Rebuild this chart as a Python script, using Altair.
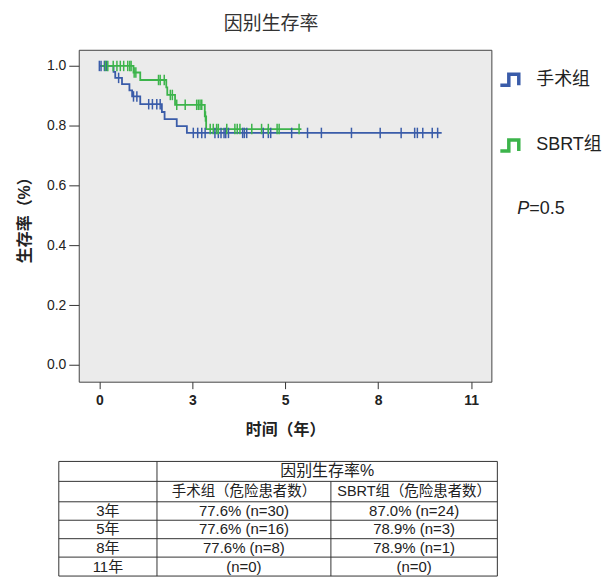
import altair as alt
import pandas as pd

FONT = "Liberation Sans, Noto Sans CJK SC, sans-serif"
BLUE = "#3a5ca9"
GREEN = "#3cb44b"
INK = "#222222"

GROUPS = ["手术组", "SBRT组"]

# Kaplan-Meier steps: time (years) and survival after each event; last point = end of follow-up
SURG_T = [0.0, 0.42, 0.47, 0.67, 0.89, 0.97, 1.21, 1.85, 1.93, 2.29, 2.59, 10.13]
SURG_S = [1.0, 0.980, 0.960, 0.939, 0.918, 0.898, 0.872, 0.846, 0.822, 0.799, 0.776, 0.776]
SURG_CENSOR = [0.0, 0.05, 0.15, 0.21, 0.57, 1.01, 1.11, 1.46, 1.57, 1.70, 1.80,
               2.78, 2.91, 3.03, 3.13, 3.42, 3.52, 3.60, 3.69, 3.74, 3.82, 4.24,
               4.29, 4.36, 4.85, 5.00, 5.07, 5.69, 6.16, 6.57, 7.46, 8.31, 8.93,
               9.33, 9.41, 9.57, 9.85, 10.01]

SBRT_T = [0.0, 1.01, 1.21, 1.98, 2.01, 2.24, 3.12, 3.16, 5.98]
SBRT_S = [1.0, 0.978, 0.953, 0.928, 0.903, 0.870, 0.831, 0.789, 0.789]
SBRT_CENSOR = [0.18, 0.25, 0.41, 0.52, 0.62, 0.72, 0.84, 0.90, 0.94, 1.03, 1.08,
               1.75, 1.80, 1.92, 2.10, 2.16, 2.29, 2.54, 2.88, 2.93, 2.98, 3.03,
               3.14, 3.28, 3.37, 3.47, 3.52, 3.77, 4.01, 4.08, 4.16, 4.51, 4.80,
               5.00, 5.26, 5.32, 5.91]

X_TICKS = [0, 2.75, 5.5, 8.25, 11]
X_TICK_LABELS = ["0", "3", "5", "8", "11"]
Y_TICKS = [0.0, 0.2, 0.4, 0.6, 0.8, 1.0]

P_VALUE = "=0.5"

# Survival table
TABLE_HEADER = "因别生存率%"
TABLE_SUBHEADERS = ["手术组（危险患者数）", "SBRT组（危险患者数）"]
TABLE_ROWS = ["3年", "5年", "8年", "11年"]
TABLE_SURG = ["77.6% (n=30)", "77.6% (n=16)", "77.6% (n=8)", "(n=0)"]
TABLE_SBRT = ["87.0% (n=24)", "78.9% (n=3)", "78.9% (n=1)", "(n=0)"]


def level_at(ts, ss, t):
    s = ss[0]
    for ti, si in zip(ts, ss):
        if ti <= t:
            s = si
    return s


curve_rows = []
censor_rows = []
for name, ts, ss, cens in [("手术组", SURG_T, SURG_S, SURG_CENSOR),
                           ("SBRT组", SBRT_T, SBRT_S, SBRT_CENSOR)]:
    for t, s in zip(ts, ss):
        curve_rows.append({"group": name, "time": t, "surv": s})
    for t in cens:
        censor_rows.append({"group": name, "time": t, "surv": level_at(ts, ss, t)})
curves = pd.DataFrame(curve_rows)
censors = pd.DataFrame(censor_rows)

x_scale = alt.Scale(domain=[-0.61, 11.6], nice=False, zero=False)
y_scale = alt.Scale(domain=[-0.056, 1.054], nice=False, zero=False)
color_scale = alt.Scale(domain=GROUPS, range=[BLUE, GREEN])

label_expr = " : ".join(
    f"datum.value == {v} ? '{lab}'" for v, lab in zip(X_TICKS, X_TICK_LABELS)
) + " : ''"

x_axis = alt.Axis(values=X_TICKS, labelExpr=label_expr, grid=False, domain=False,
                  tickSize=7, tickColor="#333", labelFontSize=14, labelFontWeight="bold",
                  labelColor=INK, labelPadding=5, titleFontSize=16, titleFontWeight="bold",
                  titleColor=INK, titlePadding=14)
y_axis = alt.Axis(values=Y_TICKS, format=".1f", grid=False, domain=False,
                  tickSize=10, tickColor="#333", labelFontSize=14, labelColor=INK,
                  labelPadding=3, titleFontSize=16, titleFontWeight="bold",
                  titleColor=INK, titlePadding=14)

STEP_ICON = "M-1,0.55L-0.15,0.55L-0.15,-0.55L0.85,-0.55L0.85,0.55"

legend = alt.Legend(title=None, orient="none", legendX=421, legendY=18,
                    symbolType=STEP_ICON, symbolSize=400, symbolStrokeWidth=3.5,
                    symbolFillColor="transparent", labelFontSize=18, labelFont=FONT,
                    labelColor=INK, labelOffset=14, rowPadding=40, labelLimit=300)

lines = alt.Chart(curves).mark_line(interpolate="step-after", strokeWidth=1.8).encode(
    x=alt.X("time:Q", scale=x_scale, axis=x_axis, title="时间（年）"),
    y=alt.Y("surv:Q", scale=y_scale, axis=y_axis, title="生存率（%）"),
    color=alt.Color("group:N", scale=color_scale, legend=legend),
)

marks = alt.Chart(censors).mark_point(shape="M0,-1L0,1", size=110, strokeWidth=1.5,
                                      filled=False, opacity=1).encode(
    x=alt.X("time:Q", scale=x_scale),
    y=alt.Y("surv:Q", scale=y_scale),
    color=alt.Color("group:N", scale=color_scale, legend=None),
)

p_df = pd.DataFrame({"p": ["P"], "rest": [P_VALUE]})
p_italic = alt.Chart(p_df).mark_text(align="left", baseline="middle", fontSize=18,
                                     fontStyle="italic", font=FONT, color=INK).encode(
    x=alt.value(440), y=alt.value(160), text="p:N")
p_rest = alt.Chart(p_df).mark_text(align="left", baseline="middle", fontSize=18,
                                   font=FONT, color=INK).encode(
    x=alt.value(452), y=alt.value(160), text="rest:N")

plot = alt.layer(lines, marks, p_italic, p_rest).properties(
    width=414, height=333,
    title=alt.Title("因别生存率", fontSize=19, font=FONT, fontWeight="normal",
                    color="#333", offset=16, dx=-14, anchor="middle"),
    view=alt.ViewBackground(fill="#EBEBEB", stroke="#444", strokeWidth=1),
)

# ---- table below the plot (units are pixels from the plot's left edge / table top) ----
TABLE_W = 420
TABLE_H = 115
COL_EDGES = [-20, 78.5, 253, 420]
ROW_EDGES = [0, 20, 40.5, 59, 77.5, 96, 115]

segs = []
for yv in ROW_EDGES:
    segs.append({"x": COL_EDGES[0], "x2": COL_EDGES[-1], "y": yv, "y2": yv})
for i, xv in enumerate(COL_EDGES):
    top = ROW_EDGES[1] if i == 2 else ROW_EDGES[0]
    segs.append({"x": xv, "x2": xv, "y": top, "y2": ROW_EDGES[-1]})
seg_df = pd.DataFrame(segs)


def mid(a, b):
    return (a + b) / 2


cells = [{"text": TABLE_HEADER, "x": mid(COL_EDGES[1], COL_EDGES[3]),
          "y": mid(ROW_EDGES[0], ROW_EDGES[1]), "size": 16}]
for j, sub in enumerate(TABLE_SUBHEADERS):
    cells.append({"text": sub, "x": mid(COL_EDGES[j + 1], COL_EDGES[j + 2]),
                  "y": mid(ROW_EDGES[1], ROW_EDGES[2]), "size": 14.5})
for i, (r, a, b) in enumerate(zip(TABLE_ROWS, TABLE_SURG, TABLE_SBRT)):
    yc = mid(ROW_EDGES[i + 2], ROW_EDGES[i + 3])
    for j, txt in enumerate([r, a, b]):
        cells.append({"text": txt, "x": mid(COL_EDGES[j], COL_EDGES[j + 1]),
                      "y": yc, "size": 15})
cell_df = pd.DataFrame(cells)

tx = alt.Scale(domain=[0, TABLE_W], nice=False, zero=False)
ty = alt.Scale(domain=[0, TABLE_H], nice=False, zero=False, reverse=True)

grid = alt.Chart(seg_df).mark_rule(color="#333", strokeWidth=1).encode(
    x=alt.X("x:Q", scale=tx, axis=None), x2="x2:Q",
    y=alt.Y("y:Q", scale=ty, axis=None), y2="y2:Q",
)
texts = alt.Chart(cell_df).mark_text(font=FONT, color=INK, baseline="middle",
                                     align="center").encode(
    x=alt.X("x:Q", scale=tx, axis=None),
    y=alt.Y("y:Q", scale=ty, axis=None),
    text="text:N",
    size=alt.Size("size:Q", scale=None, legend=None),
)
table = alt.layer(grid, texts).properties(
    width=TABLE_W, height=TABLE_H,
    view=alt.ViewBackground(fill=None, stroke=None),
)

chart = alt.vconcat(plot, table, spacing=22).resolve_scale(
    x="independent", y="independent", color="independent"
).resolve_legend(color="independent").properties(
    padding={"left": 16, "top": 13, "right": 2, "bottom": 0}
).configure(font=FONT).configure_view(stroke=None)

chart.save("out.html", embed_options={"renderer": "svg", "actions": False})
